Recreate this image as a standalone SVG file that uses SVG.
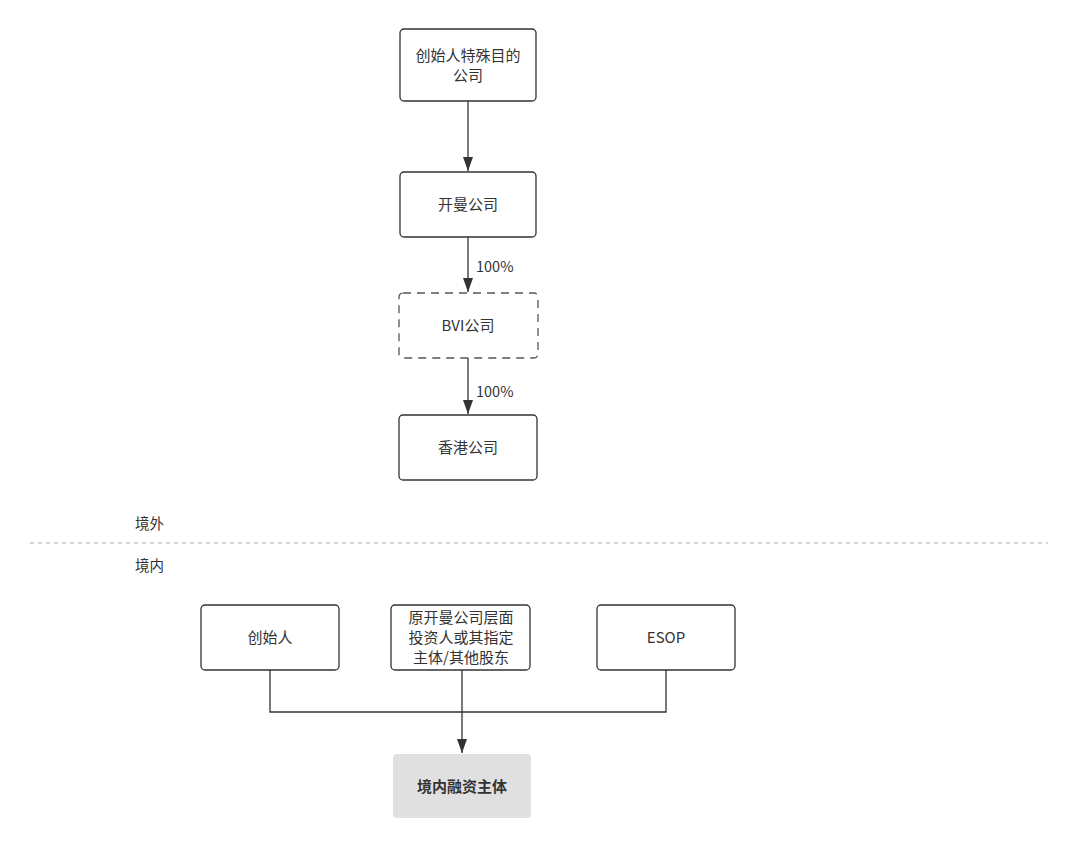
<svg xmlns="http://www.w3.org/2000/svg" width="1080" height="848" viewBox="0 0 1080 848">
<defs>
<style>
.box{fill:#fff;stroke:#333;stroke-width:1.3}
.dash{fill:#fff;stroke:#555;stroke-width:1.3;stroke-dasharray:8 6}
.t{font-family:"Noto Sans CJK SC","Noto Sans",sans-serif;font-size:15px;fill:#333;text-anchor:middle}
.lbl{font-family:"Noto Sans CJK SC","Noto Sans",sans-serif;font-size:14.5px;fill:#333}
.c{fill:none;stroke:#333;stroke-width:1.3}
</style>
<marker id="ah" viewBox="0 0 14 10" refX="14" refY="5" markerWidth="14" markerHeight="10" markerUnits="userSpaceOnUse" orient="auto">
<path d="M0,0 L14,5 L0,10 z" fill="#333"/>
</marker>
</defs>
<rect width="1080" height="848" fill="#fff"/>
<g id="connectors">
<line class="c" x1="468" y1="101" x2="468" y2="171" marker-end="url(#ah)"/>
<line class="c" x1="468" y1="237" x2="468" y2="292" marker-end="url(#ah)"/>
<line class="c" x1="468" y1="358" x2="468" y2="414" marker-end="url(#ah)"/>
<polyline class="c" points="270,670 270,712 666,712 666,670"/>
<line class="c" x1="462" y1="670" x2="462" y2="753" marker-end="url(#ah)"/>
<text class="lbl" x="476" y="272">100%</text>
<text class="lbl" x="476" y="397">100%</text>
</g>
<g id="n1"><rect class="box" x="400" y="29" width="136" height="72" rx="4"/><text class="t" x="468" y="61">创始人特殊目的</text><text class="t" x="468" y="81">公司</text></g>
<g id="n2"><rect class="box" x="400" y="172" width="136" height="65" rx="4"/><text class="t" x="468" y="210">开曼公司</text></g>
<g id="n3"><rect class="dash" x="399" y="293" width="139" height="65" rx="4"/><text class="t" x="468" y="331">BVI公司</text></g>
<g id="n4"><rect class="box" x="399" y="415" width="138" height="65" rx="4"/><text class="t" x="468" y="453">香港公司</text></g>
<g id="boundary">
<line x1="30" y1="543" x2="1048" y2="543" stroke="#aaa" stroke-width="1.2" stroke-dasharray="4 4"/>
<text class="lbl" x="135" y="529">境外</text>
<text class="lbl" x="135" y="571">境内</text>
</g>
<g id="n5"><rect class="box" x="201" y="605" width="138" height="65" rx="4"/><text class="t" x="270" y="643">创始人</text></g>
<g id="n6"><rect class="box" x="391" y="605" width="139" height="65" rx="4"/><text class="t" x="461" y="623">原开曼公司层面</text><text class="t" x="461" y="643">投资人或其指定</text><text class="t" x="461" y="663">主体/其他股东</text></g>
<g id="n7"><rect class="box" x="597" y="605" width="138" height="65" rx="4"/><text class="t" x="666" y="643">ESOP</text></g>
<g id="n8"><rect x="393" y="754" width="138" height="64" rx="4" fill="#e0e0e0"/><text class="t" x="462" y="792" font-weight="bold">境内融资主体</text></g>
</svg>
